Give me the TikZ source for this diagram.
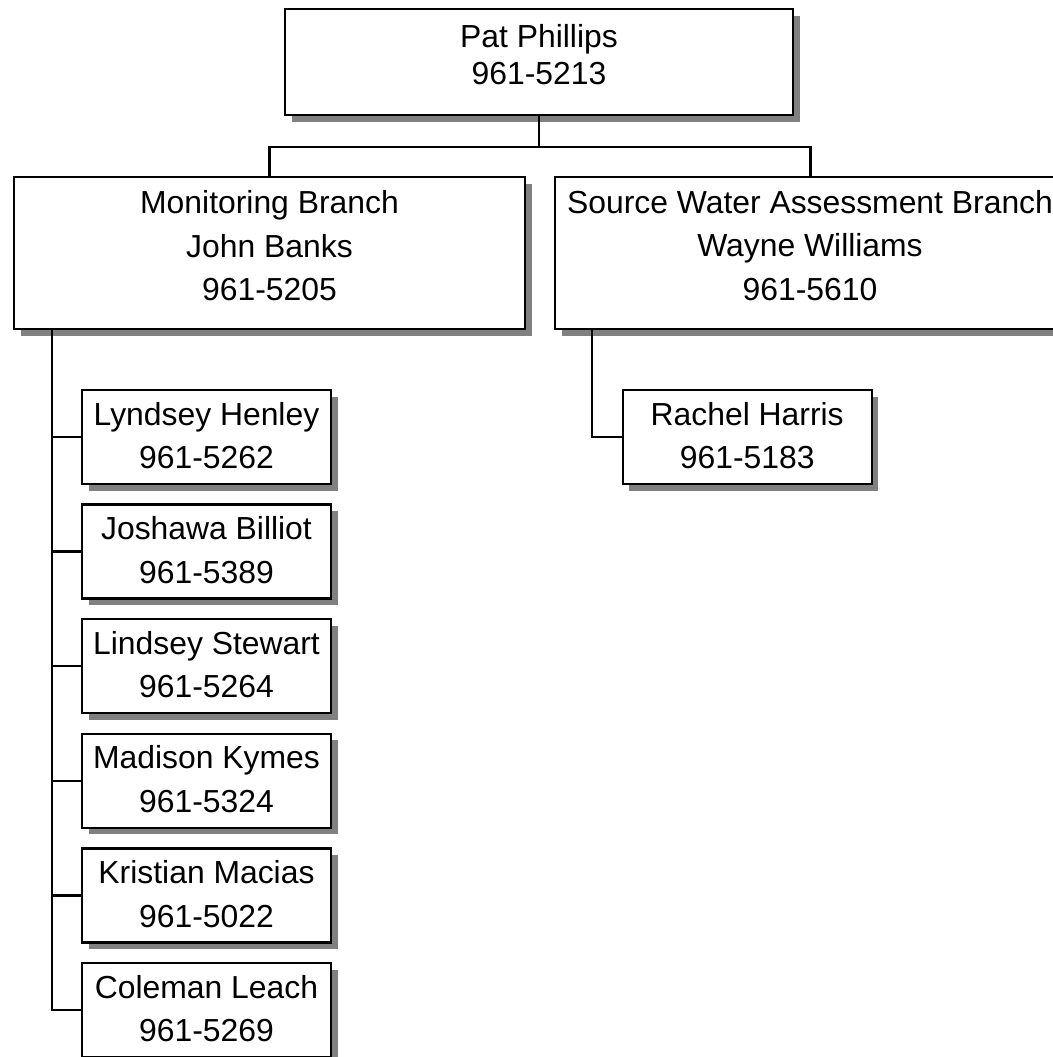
\documentclass[tikz,border=0pt]{standalone}
\usepackage{fontspec}
\setmainfont{Liberation Sans}
\usetikzlibrary{shadows}
\definecolor{shadowgray}{RGB}{128,128,128}
\begin{document}
\begin{tikzpicture}[x=0.75pt,y=-0.75pt,
  box/.style={draw=black, line width=1.8pt, fill=white, inner sep=0pt,
    drop shadow={shadow xshift=4.9pt, shadow yshift=-4.9pt, fill=shadowgray, opacity=1}},
  topbox/.style={box, minimum width=381pt, minimum height=79.5pt},
  branchbox/.style={box, minimum width=383.25pt, minimum height=114pt},
  personbox/.style={box, minimum width=186.75pt, minimum height=70.5pt},
  txt/.style={align=center, inner sep=0pt, font=\fontsize{23.9}{32.6}\selectfont},
  toptxt/.style={txt, font=\fontsize{23.9}{28}\selectfont},
  link/.style={draw=black, line width=1.8pt}]
\path[use as bounding box, clip] (0,0) rectangle (1053,1057);
\fill[white] (0,0) rectangle (1053,1057);

% top
\node[topbox] (pat) at (539,62) {};
\node[toptxt] (pattext) at (539,54.7) {Pat Phillips\\961-5213};

% branches
\node[branchbox] (mon) at (269.5,253) {};
\node[txt] (montext) at (269.5,246) {Monitoring Branch\\John Banks\\961-5205};
\node[branchbox] (swa) at (810.5,253) {};
\node[txt] (swatext) at (810,245.5) {Source Water Assessment Branch\\Wayne Williams\\961-5610};

% monitoring staff
\foreach \pname/\pphone [count=\i from 0] in {Lyndsey Henley/961-5262, Joshawa Billiot/961-5389, Lindsey Stewart/961-5264, Madison Kymes/961-5324, Kristian Macias/961-5022, Coleman Leach/961-5269} {
  \node[personbox] (c\i) at (206.5,{437+114.6*\i}) {};
  \node[txt] (c\i text) at (206.5,{435.5+114.6*\i}) {\pname\\\pphone};
}

% source water staff
\node[personbox] (rachel) at (747.2,437) {};
\node[txt] (racheltext) at (747.2,435.5) {Rachel Harris\\961-5183};

% connectors
\coordinate (bus) at (539,147);
\coordinate (trunkx) at (52,0);
\coordinate (swax) at (592,0);
\draw[link] (pat.south) -- (bus);
\draw[link] (mon.north) |- (bus) -| (swa.north);
\draw[link] (trunkx |- mon.south) |- (c5.west);
\foreach \i in {0,...,4} {
  \draw[link] (trunkx |- c\i.west) -- (c\i.west);
}
\draw[link] (swax |- swa.south) |- (rachel.west);
\end{tikzpicture}
\end{document}
